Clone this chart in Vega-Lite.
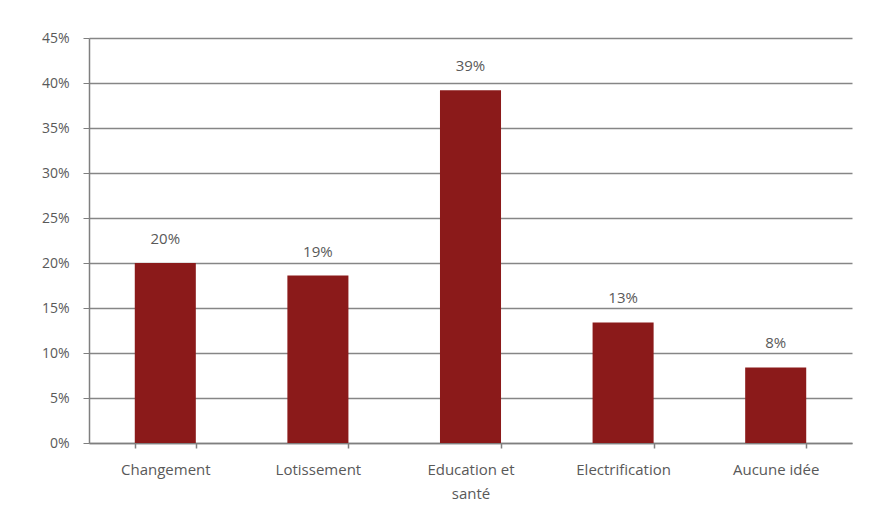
{
  "$schema": "https://vega.github.io/schema/vega-lite/v6.json",
  "width": 763,
  "height": 405,
  "autosize": {"type": "none"},
  "padding": {"left": 89, "top": 38, "right": 19, "bottom": 77},
  "background": "#ffffff",
  "data": {
    "values": [
      {"categorie": "Changement", "valeur": 0.200, "etiquette": "20%"},
      {"categorie": "Lotissement", "valeur": 0.186, "etiquette": "19%"},
      {"categorie": "Education et santé", "valeur": 0.392, "etiquette": "39%"},
      {"categorie": "Electrification", "valeur": 0.134, "etiquette": "13%"},
      {"categorie": "Aucune idée", "valeur": 0.084, "etiquette": "8%"}
    ]
  },
  "encoding": {
    "x": {
      "field": "categorie",
      "type": "nominal",
      "sort": null,
      "scale": {"paddingInner": 0.6, "paddingOuter": 0.3},
      "axis": {
        "title": null,
        "labelAngle": 0,
        "labelFont": "Open Sans",
        "labelFontSize": 15,
        "labelColor": "#595959",
        "labelPadding": 14,
        "labelExpr": "datum.label == 'Education et santé' ? ['Education et', 'santé'] : datum.label",
        "labelLineHeight": 24,
        "tickBand": "extent",
        "tickSize": 5,
        "tickWidth": 1.5,
        "tickColor": "#7f7f7f",
        "domainColor": "#7f7f7f",
        "domainWidth": 1.5,
        "grid": false
      }
    },
    "y": {
      "field": "valeur",
      "type": "quantitative",
      "scale": {"domain": [0, 0.45], "nice": false},
      "axis": {
        "title": null,
        "format": ".0%",
        "values": [0, 0.05, 0.1, 0.15, 0.2, 0.25, 0.3, 0.35, 0.4, 0.45],
        "labelFont": "Open Sans",
        "labelFontSize": 14,
        "labelColor": "#595959",
        "labelPadding": 14,
        "tickSize": 6,
        "tickColor": "#7f7f7f",
        "domainColor": "#7f7f7f",
        "domainWidth": 1.5,
        "grid": true,
        "gridColor": "#868686",
        "gridWidth": 1.5
      }
    }
  },
  "layer": [
    {"mark": {"type": "bar", "color": "#8b1a1a"}},
    {
      "mark": {"type": "text", "baseline": "middle", "dy": -24, "font": "Open Sans", "fontSize": 15, "color": "#595959"},
      "encoding": {"text": {"field": "etiquette"}}
    }
  ],
  "config": {"view": {"stroke": null}}
}
